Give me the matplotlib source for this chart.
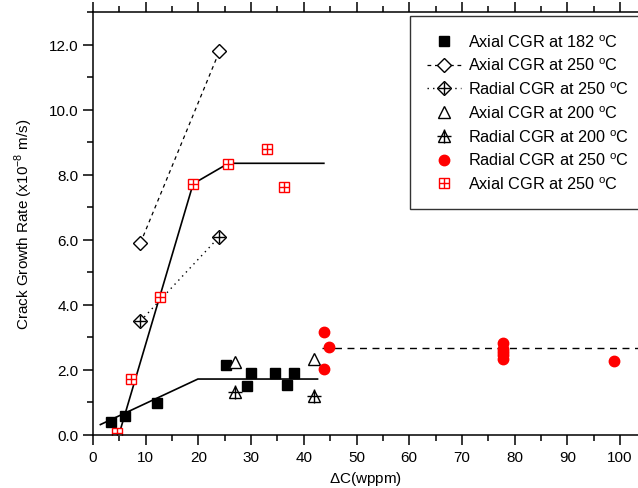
#!/usr/bin/env python
# -*- coding: utf-8 -*-

"""Crack growth rate vs. delta C"""

from matplotlib import pyplot as plt
from matplotlib.legend_handler import HandlerTuple
from matplotlib.ticker import MultipleLocator

# --- datos ---
ax182_x = [3.4, 6.0, 12.1, 25.2, 29.9, 29.3, 34.5, 36.8, 38.1]
ax182_y = [0.41, 0.59, 0.98, 2.15, 1.91, 1.51, 1.91, 1.53, 1.91]

ax250_x = [9.0, 24.0]
ax250_y = [5.9, 11.8]

rad250_x = [9.0, 24.0]
rad250_y = [3.5, 6.1]

ax200_x = [27.0, 42.0]
ax200_y = [2.23, 2.33]

rad200_x = [26.9, 42.0]
rad200_y = [1.31, 1.21]

rad250b_x = [43.8, 44.8, 43.8, 77.8, 77.8, 77.8, 77.8, 77.8, 98.8]
rad250b_y = [3.16, 2.71, 2.02, 2.82, 2.65, 2.55, 2.45, 2.33, 2.27]

ax250b_x = [4.6, 7.3, 12.8, 19.0, 25.7, 33.0, 36.2]
ax250b_y = [0.05, 1.71, 4.23, 7.72, 8.33, 8.8, 7.61]

# lineas de ajuste
fit182_x = [1.4, 19.9, 42.6]
fit182_y = [0.32, 1.72, 1.72]
fit250_x = [4.9, 19.0, 25.7, 43.8]
fit250_y = [0.0, 7.72, 8.35, 8.35]
fitrad_x = [43.5, 103.4]
fitrad_y = [2.66, 2.66]

plt.rcParams['font.family'] = ['Liberation Sans', 'DejaVu Sans']
plt.rcParams['mathtext.fontset'] = 'custom'
plt.rcParams['mathtext.rm'] = 'Liberation Sans'

fig = plt.figure(figsize=(6.38, 4.89), dpi=100)
ax = fig.add_axes([93 / 638, 53 / 489, 1 - 93 / 638, 423 / 489])

# ajustes
ax.plot(fit182_x, fit182_y, color='black', lw=1.2)
ax.plot(fit250_x, fit250_y, color='black', lw=1.2)
ax.plot(fitrad_x, fitrad_y, color='black', lw=1.0, ls=(0, (5, 4)))

h1, = ax.plot(ax182_x, ax182_y, 's', color='black', ms=6.5, ls='none')
h2, = ax.plot(ax250_x, ax250_y, 'D', mfc='white', mec='black', color='black',
              ms=7, mew=1.0, ls=(0, (3, 3)), lw=0.9)
h3a, = ax.plot(rad250_x, rad250_y, 'D', mfc='white', mec='black', color='black',
               ms=7, mew=1.0, ls=(0, (1, 3)), lw=1.0)
h3b, = ax.plot(rad250_x, rad250_y, '+', color='black', ms=9, mew=1.0, ls='none')
h4, = ax.plot(ax200_x, ax200_y, '^', mfc='white', mec='black', ms=8, mew=1.0, ls='none')
h5a, = ax.plot(rad200_x, rad200_y, '^', mfc='white', mec='black', ms=8, mew=1.0, ls='none')
h5b, = ax.plot(rad200_x, rad200_y, '+', color='black', ms=10, mew=1.0, ls='none')
h6, = ax.plot(rad250b_x, rad250b_y, 'o', color='red', ms=7.5, ls='none')
h7a, = ax.plot(ax250b_x, ax250b_y, 's', mfc='white', mec='red', ms=7, mew=1.0, ls='none')
h7b, = ax.plot(ax250b_x, ax250b_y, '+', color='red', ms=7, mew=1.0, ls='none')

ax.set_xlim(0, 103.4)
ax.set_ylim(0, 13.0)
ax.xaxis.set_major_locator(MultipleLocator(10))
ax.xaxis.set_minor_locator(MultipleLocator(5))
ax.yaxis.set_major_locator(MultipleLocator(2))
ax.yaxis.set_minor_locator(MultipleLocator(1))
ax.yaxis.set_major_formatter(plt.FormatStrFormatter('%.1f'))
ax.tick_params(which='major', direction='out', length=7, width=1.1, labelsize=11)
ax.tick_params(which='minor', direction='out', length=4, width=1.1)
ax.tick_params(axis='x', which='both', top=True, labeltop=False)
ax.spines['right'].set_visible(False)
for s in ['left', 'bottom', 'top']:
    ax.spines[s].set_linewidth(1.1)

ax.set_xlabel(r'$\Delta$C(wppm)', fontsize=11, labelpad=4)
ax.set_ylabel(r'Crack Growth Rate (x10$^{-8}$ m/s)', fontsize=11, labelpad=10)

handles = [h1, h2, (h3a, h3b), h4, (h5a, h5b), h6, (h7a, h7b)]
labels = [r'Axial CGR at 182 $^{\rm o}$C',
          r'Axial CGR at 250 $^{\rm o}$C',
          r'Radial CGR at 250 $^{\rm o}$C',
          r'Axial CGR at 200 $^{\rm o}$C',
          r'Radial CGR at 200 $^{\rm o}$C',
          r'Radial CGR at 250 $^{\rm o}$C',
          r'Axial CGR at 250 $^{\rm o}$C']
leg = ax.legend(handles, labels, handler_map={tuple: HandlerTuple(ndivide=1, pad=0)},
                loc='upper left', bbox_to_anchor=(410 / 638, 1 - 17 / 489),
                bbox_transform=fig.transFigure, fontsize=11.7, frameon=True,
                fancybox=False, edgecolor='black', borderpad=1.05, borderaxespad=0,
                labelspacing=0.44, handlelength=2.1, handletextpad=0.45)
leg.get_frame().set_linewidth(1.0)

plt.savefig('out.png', dpi=100)
